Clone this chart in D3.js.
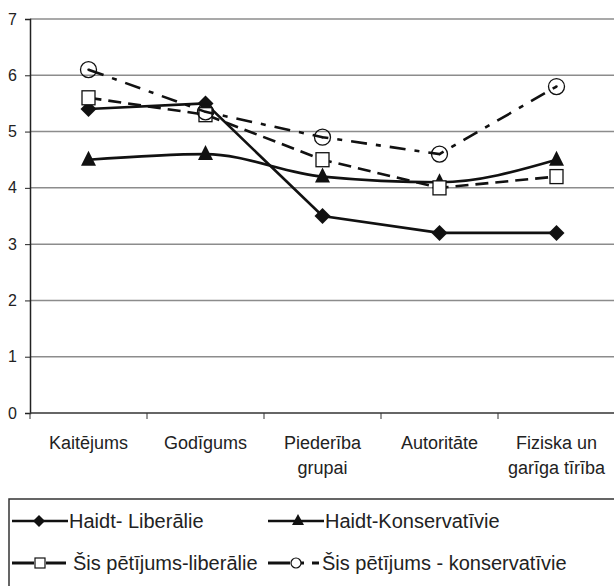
<!DOCTYPE html>
<html><head><meta charset="utf-8">
<script src="https://cdn.jsdelivr.net/npm/d3@7"></script>
<style>body{margin:0;background:#fff}svg{display:block}text{font-family:"Liberation Sans",Arial,sans-serif;fill:#222}</style>
</head><body>
<svg id="c" width="614" height="586"></svg>
<script>
const categories = [["Kaitējums"],["Godīgums"],["Piederība","grupai"],["Autoritāte"],["Fiziska un","garīga tīrība"]];
const yTicks = [0,1,2,3,4,5,6,7];
const haidtLib = [5.4,5.5,3.5,3.2,3.2];
const haidtCons = [4.5,4.6,4.2,4.1,4.5];
const studyLib = [5.6,5.3,4.5,4.0,4.2];
const studyCons = [6.1,5.35,4.9,4.6,5.8];
const seriesNames = ["Haidt- Liberālie","Haidt-Konservatīvie","Šis pētījums-liberālie","Šis pētījums - konservatīvie"];

const svg = d3.select("#c");
const x = d3.scaleBand().domain(d3.range(categories.length)).range([30,615]);
const y = d3.scaleLinear().domain([0,7]).range([413,19]);
const cx = i => x(i) + x.bandwidth()/2;

svg.append("g").selectAll("line").data(yTicks.filter(d=>d>0)).join("line")
  .attr("x1",30).attr("x2",614).attr("y1",d=>y(d)).attr("y2",d=>y(d))
  .attr("stroke","#8c8c8c").attr("stroke-width",1.5);

const ya = svg.append("g").attr("transform","translate(30,0)")
  .call(d3.axisLeft(y).tickValues(yTicks).tickSize(5).tickPadding(8).tickFormat(d3.format("d")));
ya.select(".domain").attr("stroke","#222").attr("stroke-width",1.5);
ya.selectAll(".tick line").attr("stroke","#222");
ya.selectAll("text").attr("font-size",16).attr("fill","#222").style("font-family","Liberation Sans, Arial");

svg.append("line").attr("x1",30).attr("x2",614).attr("y1",y(0)).attr("y2",y(0)).attr("stroke","#333").attr("stroke-width",1.5);
svg.append("g").selectAll("line").data(d3.range(categories.length+1)).join("line")
  .attr("x1",i=>30+i*x.bandwidth()).attr("x2",i=>30+i*x.bandwidth())
  .attr("y1",y(0)).attr("y2",y(0)+6).attr("stroke","#333").attr("stroke-width",1);
const xl = svg.append("g").selectAll("text").data(categories).join("text")
  .attr("x",(d,i)=>cx(i)).attr("y",449).attr("text-anchor","middle").attr("font-size",18);
xl.each(function(d){ const t=d3.select(this); d.forEach((s,k)=>t.append("tspan").attr("x",t.attr("x")).attr("dy",k?25:0).text(s)); });

const lineStraight = d3.line().x((d,i)=>cx(i)).y(d=>y(d));
const lineSmooth = d3.line().x((d,i)=>cx(i)).y(d=>y(d)).curve(d3.curveMonotoneX);
const g = svg.append("g");
function marker(sel, type, px, py){
  if(type==="diamond"){
    sel.append("path").attr("d",`M${px},${py-8}L${px+8},${py}L${px},${py+8}L${px-8},${py}Z`).attr("fill","#111");
  } else if(type==="triangle"){
    sel.append("path").attr("d",`M${px},${py-9}L${px+7.5},${py+6}L${px-7.5},${py+6}Z`).attr("fill","#111");
  } else if(type==="square"){
    sel.append("rect").attr("x",px-6.5).attr("y",py-7).attr("width",13).attr("height",14).attr("fill","#fff").attr("stroke","#111").attr("stroke-width",1.3);
  } else {
    sel.append("circle").attr("cx",px).attr("cy",py).attr("r",8).attr("fill","none").attr("stroke","#111").attr("stroke-width",1.3);
    sel.append("circle").attr("cx",px).attr("cy",py).attr("r",1.2).attr("fill","#111");
  }
}
const series = [
  {vals:haidtLib, type:"diamond", dash:null, gen:lineStraight},
  {vals:haidtCons, type:"triangle", dash:null, gen:lineSmooth},
  {vals:studyLib, type:"square", dash:"13,7", gen:lineStraight},
  {vals:studyCons, type:"circle", dash:"16,9,5,9", gen:lineStraight}
];
series.forEach(s=>{
  g.append("path").attr("d",s.gen(s.vals)).attr("fill","none").attr("stroke","#111").attr("stroke-width",2.6)
    .attr("stroke-dasharray",s.dash);
  s.vals.forEach((v,i)=>marker(g,s.type,cx(i),y(v)));
});

const lg = svg.append("g");
lg.append("rect").attr("x",9).attr("y",499).attr("width",620).attr("height",100).attr("fill","none").attr("stroke","#333").attr("stroke-width",1.5);
const legPos = [[12,521],[268,521],[12,563],[268,563]];
const fs = 20;
series.forEach((s,k)=>{
  const [lx,ly]=legPos[k];
  const item = lg.append("g");
  if(k===0||k===1){
    item.append("line").attr("x1",lx).attr("x2",lx+56).attr("y1",ly).attr("y2",ly).attr("stroke","#111").attr("stroke-width",2.5);
    if(k===0) item.append("path").attr("d",`M${lx+27},${ly-6}L${lx+33},${ly}L${lx+27},${ly+6}L${lx+21},${ly}Z`).attr("fill","#111");
    else item.append("path").attr("d",`M${lx+30},${ly-7}L${lx+36},${ly+4}L${lx+24},${ly+4}Z`).attr("fill","#111");
    item.append("text").attr("x",lx+57).attr("y",ly+7).attr("font-size",fs).text(seriesNames[k]);
  } else if(k===2){
    item.append("line").attr("x1",lx).attr("x2",lx+22).attr("y1",ly).attr("y2",ly).attr("stroke","#111").attr("stroke-width",3);
    item.append("line").attr("x1",lx+34).attr("x2",lx+54).attr("y1",ly).attr("y2",ly).attr("stroke","#111").attr("stroke-width",3);
    item.append("rect").attr("x",lx+23).attr("y",ly-5).attr("width",10).attr("height",10).attr("fill","#fff").attr("stroke","#111").attr("stroke-width",1.2);
    item.append("text").attr("x",lx+61).attr("y",ly+7).attr("font-size",fs).text(seriesNames[k]);
  } else {
    item.append("line").attr("x1",lx).attr("x2",lx+22).attr("y1",ly).attr("y2",ly).attr("stroke","#111").attr("stroke-width",3);
    item.append("circle").attr("cx",lx+28).attr("cy",ly).attr("r",5).attr("fill","#fff").attr("stroke","#111").attr("stroke-width",1.2);
    item.append("line").attr("x1",lx+33).attr("x2",lx+36).attr("y1",ly).attr("y2",ly).attr("stroke","#111").attr("stroke-width",3);
    item.append("line").attr("x1",lx+44).attr("x2",lx+51).attr("y1",ly).attr("y2",ly).attr("stroke","#111").attr("stroke-width",3);
    item.append("text").attr("x",lx+54).attr("y",ly+7).attr("font-size",fs).text(seriesNames[k]);
  }
});
</script>
</body></html>
